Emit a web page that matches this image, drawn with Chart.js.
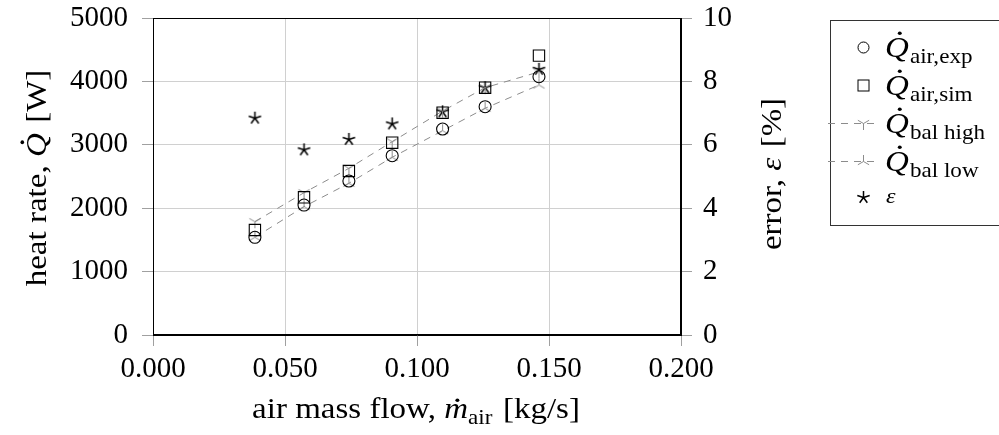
<!DOCTYPE html>
<html>
<head>
<meta charset="utf-8">
<script src="https://cdn.jsdelivr.net/npm/chart.js@4.4.0/dist/chart.umd.min.js"></script>
<style>
  html, body { margin: 0; padding: 0; background: #fff; }
  #wrap { width: 999px; height: 435px; position: relative; }
</style>
</head>
<body>
<div id="wrap"><canvas id="c" width="999" height="435"></canvas></div>
<script>
// Measured air mass flow [kg/s]
const massFlow = [0.0386, 0.0572, 0.0742, 0.0906, 0.1097, 0.1258, 0.1462];
// Heat rates [W]
const qAirExp  = [1541, 2050, 2429, 2828, 3249, 3601, 4074];
const qAirSim  = [1656, 2172, 2587, 3033, 3506, 3901, 4406];
const qBalHigh = [1787, 2244, 2629, 3049, 3533, 3901, 4150];
const qBalLow  = [1541, 2024, 2393, 2803, 3222, 3576, 3943];
// Relative error [%]
const errorPct = [6.84, 5.84, 6.17, 6.66, 7.04, 7.80, 8.38];

// Tick labels
const xTickLabels  = ['0.000', '0.050', '0.100', '0.150', '0.200'];
const yTickLabels  = ['0', '1000', '2000', '3000', '4000', '5000'];
const y2TickLabels = ['0', '2', '4', '6', '8', '10'];

const SERIF = '"Liberation Serif", "DejaVu Serif", serif';
const GRAY = '#8c8c8c';
const STRETCH = 1.1;   // horizontal widening of title / legend text

function pts(ys) { return massFlow.map((x, i) => ({ x: x, y: ys[i] })); }

// Small canvases used as point styles
function marker(size, color, lw, draw) {
  const c = document.createElement('canvas');
  c.width = size; c.height = size;
  const g = c.getContext('2d');
  g.strokeStyle = color; g.fillStyle = color; g.lineWidth = lw;
  g.lineCap = 'butt';
  draw(g, size / 2);
  return c;
}
function rays(angles, r) {
  return (g, c) => {
    g.beginPath();
    angles.forEach(a => {
      const t = a * Math.PI / 180;
      g.moveTo(c, c);
      g.lineTo(c + r * Math.cos(t), c + r * Math.sin(t));
    });
    g.stroke();
  };
}
const starMark = marker(17, '#000', 1.5, rays([-90, -18, 54, 126, 198], 6.5));
const triHigh  = marker(17, GRAY, 1, rays([-150, -30, 90], 6.5));
const triLow   = marker(17, GRAY, 1, rays([-90, 150, 30], 6.5));

// Draws a run of text pieces (regular, italic, subscript, dotted)
function richWidth(ctx, runs, size, subSize) {
  let w = 0;
  runs.forEach(r => {
    ctx.font = (r.it ? 'italic ' : '') + (r.sub ? subSize : size) + 'px ' + SERIF;
    w += ctx.measureText(r.t).width + (r.gap || 0);
  });
  return w;
}
function drawRich(ctx, runs, x, baseline, size, subSize, align) {
  const w = richWidth(ctx, runs, size, subSize) * STRETCH;
  ctx.save();
  ctx.translate(align === 'center' ? x - w / 2 : x, baseline);
  ctx.scale(STRETCH, 1);
  let cx = 0;
  runs.forEach(r => {
    ctx.font = (r.it ? 'italic ' : '') + (r.sub ? subSize : size) + 'px ' + SERIF;
    const y = r.sub ? size * 0.2 : 0;
    ctx.fillText(r.t, cx, y);
    const tw = ctx.measureText(r.t).width;
    if (r.dot) {
      const h = r.t === 'm' ? size * 0.46 : size * 0.66;
      ctx.beginPath();
      ctx.arc(cx + tw * (r.t === 'm' ? 0.55 : 0.62), y - h - size * 0.13, size * 0.06, 0, Math.PI * 2);
      ctx.fill();
    }
    cx += tw + (r.gap || 0);
  });
  ctx.restore();
}

const decorPlugin = {
  id: 'decor',
  afterDraw(chart) {
    const ctx = chart.ctx;
    const a = chart.chartArea;
    ctx.save();
    // frame
    ctx.strokeStyle = '#000';
    ctx.lineWidth = 1;
    ctx.strokeRect(Math.round(a.left) + 0.5, Math.round(a.top) + 0.5,
                   Math.round(a.right - a.left) - 1, Math.round(a.bottom - a.top) - 1);

    ctx.fillStyle = '#000';
    ctx.textBaseline = 'alphabetic';
    ctx.textAlign = 'left';

    // x title
    drawRich(ctx, [
      { t: 'air mass flow, ' },
      { t: 'm', it: true, dot: true },
      { t: 'air', sub: true, gap: 2 },
      { t: ' [kg/s]' }
    ], 416, 418, 30, 21, 'center');

    // left y title
    ctx.save();
    ctx.translate(46, 178);
    ctx.rotate(-Math.PI / 2);
    drawRich(ctx, [
      { t: 'heat rate, ' },
      { t: 'Q', it: true, dot: true, gap: 2 },
      { t: ' [W]' }
    ], 0, 0, 30, 21, 'center');
    ctx.restore();

    // right y title
    ctx.save();
    ctx.translate(781, 174);
    ctx.rotate(-Math.PI / 2);
    drawRich(ctx, [
      { t: 'error, ' },
      { t: 'ε', it: true, gap: 2 },
      { t: ' [%]' }
    ], 0, 0, 30, 21, 'center');
    ctx.restore();

    // legend
    ctx.strokeStyle = '#333';
    ctx.lineWidth = 1;
    ctx.strokeRect(830.5, 20.5, 175, 205);
    const rows = [
      { y: 47,  sub: 'air,exp' },
      { y: 85,  sub: 'air,sim' },
      { y: 123, sub: 'bal high' },
      { y: 161, sub: 'bal low' },
      { y: 197, eps: true }
    ];
    const mx = 863;
    ctx.strokeStyle = '#000';
    ctx.beginPath(); ctx.arc(mx + 0.5, rows[0].y + 0.5, 5.5, 0, Math.PI * 2); ctx.stroke();
    ctx.strokeRect(mx - 5, rows[1].y - 5, 11, 11);
    [2, 3].forEach(i => {
      ctx.save();
      ctx.strokeStyle = GRAY;
      ctx.setLineDash([7, 6]);
      ctx.beginPath();
      ctx.moveTo(828, rows[i].y + 0.5); ctx.lineTo(880, rows[i].y + 0.5);
      ctx.stroke();
      ctx.restore();
    });
    ctx.drawImage(triHigh, mx - 8, rows[2].y - 8);
    ctx.drawImage(triLow, mx - 8, rows[3].y - 8);
    ctx.drawImage(starMark, mx - 8, rows[4].y - 8);

    rows.forEach(r => {
      if (r.eps) {
        drawRich(ctx, [{ t: 'ε', it: true }], 886, r.y + 6, 22, 16, 'left');
      } else {
        drawRich(ctx, [
          { t: 'Q', it: true, dot: true, gap: 1 },
          { t: r.sub, sub: true }
        ], 885, r.y + 10, 30, 21, 'left');
      }
    });
    ctx.restore();
  }
};

const tickFont = { family: SERIF, size: 29 };
function noPad(s) { s.paddingTop = 0; s.paddingBottom = 0; s.paddingLeft = 0; s.paddingRight = 0; }

new Chart(document.getElementById('c'), {
  type: 'scatter',
  data: {
    datasets: [
      { label: 'air,exp', data: pts(qAirExp), yAxisID: 'y',
        pointStyle: 'circle', radius: 6, borderColor: '#000', backgroundColor: 'rgba(0,0,0,0)', borderWidth: 1.1 },
      { label: 'air,sim', data: pts(qAirSim), yAxisID: 'y',
        pointStyle: 'rect', radius: 8, borderColor: '#000', backgroundColor: 'rgba(0,0,0,0)', borderWidth: 1.1 },
      { label: 'bal high', data: pts(qBalHigh), yAxisID: 'y', showLine: true,
        borderColor: GRAY, borderWidth: 1, borderDash: [7, 6], pointStyle: triHigh, radius: 6 },
      { label: 'bal low', data: pts(qBalLow), yAxisID: 'y', showLine: true,
        borderColor: GRAY, borderWidth: 1, borderDash: [7, 6], pointStyle: triLow, radius: 6 },
      { label: 'eps', data: pts(errorPct), yAxisID: 'y2',
        pointStyle: starMark, radius: 6 }
    ]
  },
  options: {
    responsive: false,
    animation: false,
    devicePixelRatio: 1,
    layout: { padding: { top: 18, left: 0, right: 0, bottom: 0 } },
    plugins: { legend: { display: false }, tooltip: { enabled: false } },
    scales: {
      x: {
        type: 'linear', min: 0, max: 0.2,
        afterFit: s => { s.height = 100; noPad(s); },
        afterBuildTicks: s => { s.ticks = xTickLabels.map(t => ({ value: parseFloat(t) })); },
        ticks: { font: tickFont, color: '#000', padding: 6, maxRotation: 0,
                 callback: (v) => xTickLabels.find(t => Math.abs(parseFloat(t) - v) < 1e-9) },
        grid: { color: '#d0d0d0', tickColor: '#a0a0a0', tickLength: 11 },
        border: { display: true, color: '#000' }
      },
      y: {
        type: 'linear', position: 'left', min: 0, max: 5000,
        afterFit: s => { s.width = 153; noPad(s); },
        afterBuildTicks: s => { s.ticks = yTickLabels.map(t => ({ value: +t })); },
        ticks: { font: tickFont, color: '#000', padding: 14,
                 callback: (v) => yTickLabels.find(t => +t === v) },
        grid: { color: '#d0d0d0', tickColor: '#a0a0a0', tickLength: 11 },
        border: { display: true, color: '#000' }
      },
      y2: {
        type: 'linear', position: 'right', min: 0, max: 10,
        afterFit: s => { s.width = 318; noPad(s); },
        afterBuildTicks: s => { s.ticks = y2TickLabels.map(t => ({ value: +t })); },
        ticks: { font: tickFont, color: '#000', padding: 11,
                 callback: (v) => y2TickLabels.find(t => +t === v) },
        grid: { drawOnChartArea: false, color: '#d0d0d0', tickColor: '#a0a0a0', tickLength: 11 },
        border: { display: true, color: '#000' }
      }
    }
  },
  plugins: [decorPlugin]
});
</script>
</body>
</html>
